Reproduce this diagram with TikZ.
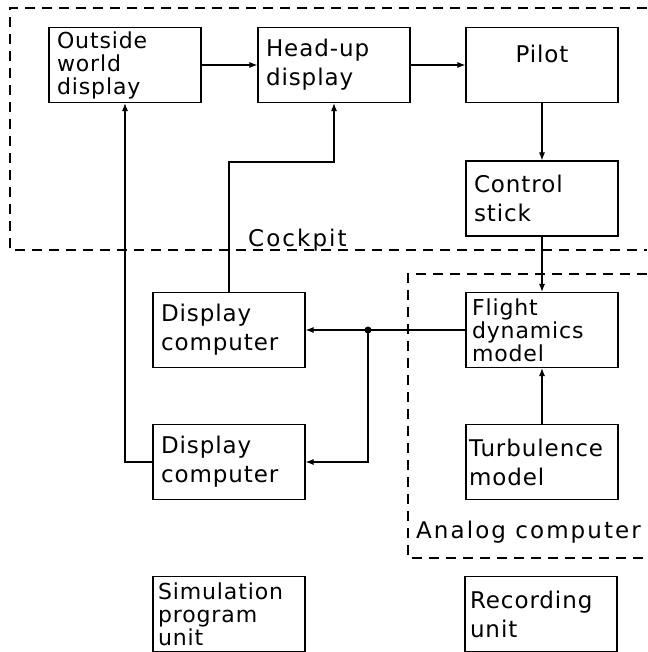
\documentclass[tikz,border=0pt]{standalone}
\usepackage{fontspec}
\setmainfont{DejaVu Sans}[LetterSpace=4]
\usetikzlibrary{arrows.meta}

\begin{document}
\begin{tikzpicture}[
  x=1pt,y=-1pt,
  block/.style={draw,line width=1.1pt,minimum width=152pt,minimum height=75pt,text width=136pt,inner xsep=8pt,inner ysep=0pt,align=left,font=\fontsize{23}{29}\selectfont},
  dense/.style={font=\fontsize{22}{23}\selectfont},
  arr/.style={-{Latex[length=8pt,width=6pt]},line width=1.1pt},
  zone/.style={dash pattern=on 10pt off 7pt,line width=1.1pt},
  zonename/.style={font=\fontsize{23}{28}\selectfont\addfontfeature{LetterSpace=9},inner sep=0pt,anchor=base west}
]
  \useasboundingbox (0,0) rectangle (647,652);

  \draw[zone] (647,8) -- (10,8) -- (10,250) -- (647,250);
  \draw[zone] (647,274) -- (408,274) -- (408,558) -- (647,558);
  \node[zonename] (cockpitname) at (248,246) {Cockpit};
  \node[zonename] (analogname) at (416,538) {Analog computer};

  \node[block,dense] (outside) at (125,65) {Outside\\world\\display};
  \node[block] (headup) at (334,65) {Head-up\\display};
  \node[block,align=center,text depth=22pt] (pilot) at (542,65) {Pilot};
  \node[block] (stick) at (542,198.5) {Control\\stick};
  \node[block,dense,inner xsep=6pt,text width=140pt] (fdm) at (542,330) {Flight\\dynamics\\model};
  \node[block,inner xsep=3pt,text width=146pt] (turb) at (542,462) {Turbulence\\model};
  \node[block] (dcone) at (229,330) {Display\\computer};
  \node[block] (dctwo) at (229,462) {Display\\computer};
  \node[block,dense,inner xsep=5pt,text width=142pt] (sim) at (229,614) {Simulation\\program\\unit};
  \node[block,inner xsep=5pt,text width=142pt] (rec) at (541,614) {Recording\\unit};

  \coordinate (split) at (368,330);
  \coordinate (hudbend) at (229,162);

  \draw[arr] (outside) -- (headup);
  \draw[arr] (headup) -- (pilot);
  \draw[arr] (pilot) -- (stick);
  \draw[arr] (stick) -- (fdm);
  \draw[arr] (turb) -- (fdm);
  \draw[arr] (fdm.west) -- (dcone.east);
  \draw[arr] (split) |- (dctwo.east);
  \fill (split) circle (3.5pt);
  \draw[arr] (dcone.north) -- (hudbend) -| (headup.south);
  \draw[arr] (dctwo.west) -| (outside.south);
\end{tikzpicture}
\end{document}
